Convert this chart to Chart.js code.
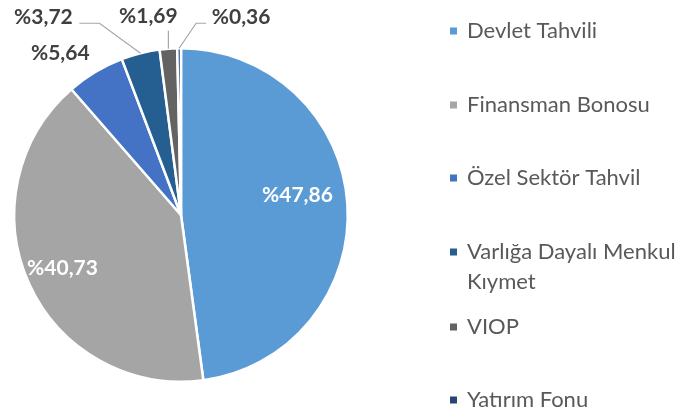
<!DOCTYPE html>
<html><head><meta charset="utf-8">
<script src="https://cdn.jsdelivr.net/npm/chart.js@4.4.0/dist/chart.umd.min.js"></script>
<style>html,body{margin:0;padding:0;background:#fff;overflow:hidden}#wrap{position:relative;width:696px;height:417px}</style>
</head><body><div id="wrap"><canvas id="c" width="696" height="417"></canvas></div>
<script>
const categories = ['Devlet Tahvili','Finansman Bonosu','Özel Sektör Tahvil','Varlığa Dayalı Menkul Kıymet','VIOP','Yatırım Fonu'];
const legendLines = [['Devlet Tahvili'],['Finansman Bonosu'],['Özel Sektör Tahvil'],['Varlığa Dayalı Menkul','Kıymet'],['VIOP'],['Yatırım Fonu']];
const shares = [47.86, 40.73, 5.64, 3.72, 1.69, 0.36];
const sliceColors = ['#5B9BD5','#A5A5A5','#4472C4','#255E91','#636363','#264478'];

// label placement styles (relative to slice geometry)
const labelStyle = [
  {mode:'in', r:0.70, dx:0, dy:-12},
  {mode:'in', r:0.78, dx:0, dy:0},
  {mode:'out', dx:-35, dy:-19, leader:null},
  {mode:'out', dx:-97, dy:-36, leader:[[-41,-30],[-61,-30]]},
  {mode:'out', dx:-20, dy:-32, leader:[[0,-18]]},
  {mode:'out', dx:62, dy:-31, leader:[[17,-25],[27,-25]]}
];
const fmt = v => '%' + v.toFixed(2).replace('.', ',');
const FONT = 'Lato, "Open Sans", sans-serif';

const labelPlugin = {
  id: 'sliceLabels',
  afterDatasetsDraw(chart) {
    const ctx = chart.ctx;
    const meta = chart.getDatasetMeta(0);
    ctx.save();
    ctx.font = 'bold 21px ' + FONT;
    ctx.textAlign = 'center';
    ctx.textBaseline = 'middle';
    meta.data.forEach((arc, i) => {
      const p = arc.getProps(['x','y','startAngle','endAngle','outerRadius'], true);
      const a = (p.startAngle + p.endAngle) / 2;
      const st = labelStyle[i];
      const txt = fmt(chart.data.datasets[0].data[i]);
      if (st.mode === 'in') {
        const r = p.outerRadius * st.r;
        ctx.fillStyle = '#FFFFFF';
        ctx.fillText(txt, p.x + r * Math.cos(a) + st.dx, p.y + r * Math.sin(a) + st.dy);
      } else {
        const ox = p.x + p.outerRadius * Math.cos(a);
        const oy = p.y + p.outerRadius * Math.sin(a);
        if (st.leader) {
          ctx.strokeStyle = '#A6A6A6';
          ctx.lineWidth = 1.2;
          ctx.beginPath();
          ctx.moveTo(ox, oy);
          st.leader.forEach(pt => ctx.lineTo(ox + pt[0], oy + pt[1]));
          ctx.stroke();
        }
        ctx.fillStyle = '#404040';
        ctx.fillText(txt, ox + st.dx, oy + st.dy);
      }
    });
    ctx.restore();
  }
};

const legendPlugin = {
  id: 'sideLegend',
  afterDraw(chart) {
    const ctx = chart.ctx;
    const ds = chart.data.datasets[0];
    const x0 = 450, tx = 467, lineH = 30;
    const rowY = [31, 105, 178, 252, 327, 400];
    ctx.save();
    ctx.font = '22px ' + FONT;
    ctx.textBaseline = 'middle';
    ctx.textAlign = 'left';
    legendLines.forEach((lines, i) => {
      const y = rowY[i];
      ctx.fillStyle = ds.backgroundColor[i];
      ctx.fillRect(x0, y - 3.5, 7, 7);
      ctx.fillStyle = '#595959';
      lines.forEach((ln, j) => ctx.fillText(ln, tx, y + j * lineH));
    });
    ctx.restore();
  }
};

new Chart(document.getElementById('c'), {
  type: 'pie',
  data: {
    labels: categories,
    datasets: [{
      data: shares,
      backgroundColor: sliceColors,
      borderColor: '#FFFFFF',
      borderWidth: 2.5
    }]
  },
  options: {
    responsive: false,
    animation: false,
    layout: {padding: {left: 13, top: 46.5, right: 347, bottom: 33.5}},
    plugins: {legend: {display: false}, tooltip: {enabled: false}}
  },
  plugins: [labelPlugin, legendPlugin]
});
</script>
</body></html>
